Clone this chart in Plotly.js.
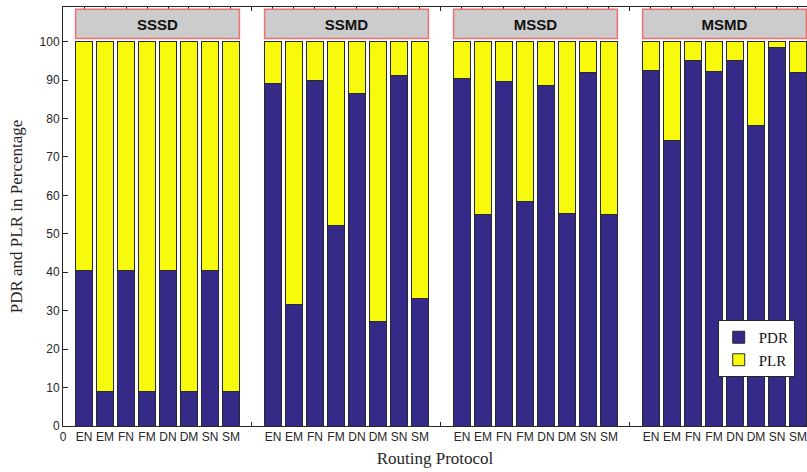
<!DOCTYPE html>
<html>
<head>
<meta charset="utf-8">
<script src="https://cdn.plot.ly/plotly-3.0.1.min.js"></script>
<style>html,body{margin:0;padding:0;background:#fff;}#chart{width:807px;height:472px;}</style>
</head>
<body>
<div id="chart"></div>
<script>
// ---- data ----
const groups = ['SSSD', 'SSMD', 'MSSD', 'MSMD'];
const protocols = ['EN', 'EM', 'FN', 'FM', 'DN', 'DM', 'SN', 'SM'];

const pdrSSSD = [40.4, 8.9, 40.4, 8.9, 40.4, 8.9, 40.4, 8.9];
const pdrSSMD = [89.2, 31.5, 89.8, 52.2, 86.4, 27.3, 91.1, 33.2];
const pdrMSSD = [90.5, 55.1, 89.5, 58.4, 88.7, 55.4, 91.9, 55.0];
const pdrMSMD = [92.4, 74.2, 95.2, 92.2, 95.2, 78.2, 98.4, 91.9];

const plrSSSD = [59.6, 91.1, 59.6, 91.1, 59.6, 91.1, 59.6, 91.1];
const plrSSMD = [10.8, 68.5, 10.2, 47.8, 13.6, 72.7, 8.9, 66.8];
const plrMSSD = [9.5, 44.9, 10.5, 41.6, 11.3, 44.6, 8.1, 45.0];
const plrMSMD = [7.6, 25.8, 4.8, 7.8, 4.8, 21.8, 1.6, 8.1];

const pdrAll = [pdrSSSD, pdrSSMD, pdrMSSD, pdrMSMD];
const plrAll = [plrSSSD, plrSSMD, plrMSSD, plrMSMD];

// ---- build ----
const slot = protocols.length + 1;
const xs = [], yPDR = [], yPLR = [];
const tickvals = [0], ticktext = ['0'];
groups.forEach((g, gi) => {
  protocols.forEach((p, pi) => {
    const x = gi * slot + pi + 1;
    xs.push(x);
    yPDR.push(pdrAll[gi][pi]);
    yPLR.push(plrAll[gi][pi]);
    tickvals.push(x);
    ticktext.push(p);
  });
  if (gi > 0) { tickvals.push(gi * slot); ticktext.push(''); }
});

const lineStyle = {color: '#2a2a2a', width: 1};
const traces = [
  {type: 'bar', name: 'PDR', x: xs, y: yPDR, width: 0.8,
   marker: {color: '#352a87', line: lineStyle}},
  {type: 'bar', name: 'PLR', x: xs, y: yPLR, width: 0.8,
   marker: {color: '#f8fa0d', line: lineStyle}}
];

const shapes = groups.map((g, gi) => ({
  type: 'rect', xref: 'x', yref: 'y',
  x0: gi * slot + 0.6, x1: gi * slot + protocols.length + 0.4,
  y0: 100.8, y1: 108.4,
  fillcolor: '#cccccc', line: {color: '#f07070', width: 1.5},
  label: {text: g, textposition: 'middle center',
          font: {family: 'Liberation Sans, Arial, sans-serif', size: 15, color: '#111', weight: 'bold'}}
}));

const tickFont = {family: 'Liberation Sans, Arial, sans-serif', size: 12, color: '#262626'};
const serif = 'Liberation Serif, DejaVu Serif, serif';

const layout = {
  width: 807, height: 472,
  margin: {l: 63, r: 0, t: 7, b: 46},
  paper_bgcolor: '#fff', plot_bgcolor: '#fff',
  barmode: 'stack',
  showlegend: true,
  legend: {x: 0.88, y: 0.253, xanchor: 'left', yanchor: 'top',
           bgcolor: '#fff', bordercolor: '#262626', borderwidth: 1,
           font: {family: serif, size: 15, color: '#111'},
           itemwidth: 30, tracegroupgap: 0, traceorder: 'normal'},
  xaxis: {
    range: [0, 35.43], tickmode: 'array', tickvals: tickvals, ticktext: ticktext,
    ticks: 'inside', ticklen: 4, tickcolor: '#262626', tickwidth: 1,
    showline: true, linecolor: '#262626', linewidth: 1, mirror: 'ticks',
    showgrid: false, zeroline: false, tickfont: tickFont, tickangle: 0,
    layer: 'below traces',
    title: {text: 'Routing Protocol', font: {family: serif, size: 17, color: '#262626'}, standoff: 8}
  },
  yaxis: {
    range: [0, 109], tickmode: 'array',
    tickvals: [0,10,20,30,40,50,60,70,80,90,100],
    ticks: 'inside', ticklen: 5, tickcolor: '#262626', tickwidth: 1,
    showline: true, linecolor: '#262626', linewidth: 1, mirror: 'ticks',
    showgrid: false, zeroline: false, tickfont: tickFont,
    layer: 'below traces',
    title: {text: 'PDR and PLR in Percentage', font: {family: serif, size: 17, color: '#262626'}, standoff: 12}
  },
  shapes: shapes
};

Plotly.newPlot('chart', traces, layout, {displayModeBar: false, staticPlot: true});
</script>
</body>
</html>
